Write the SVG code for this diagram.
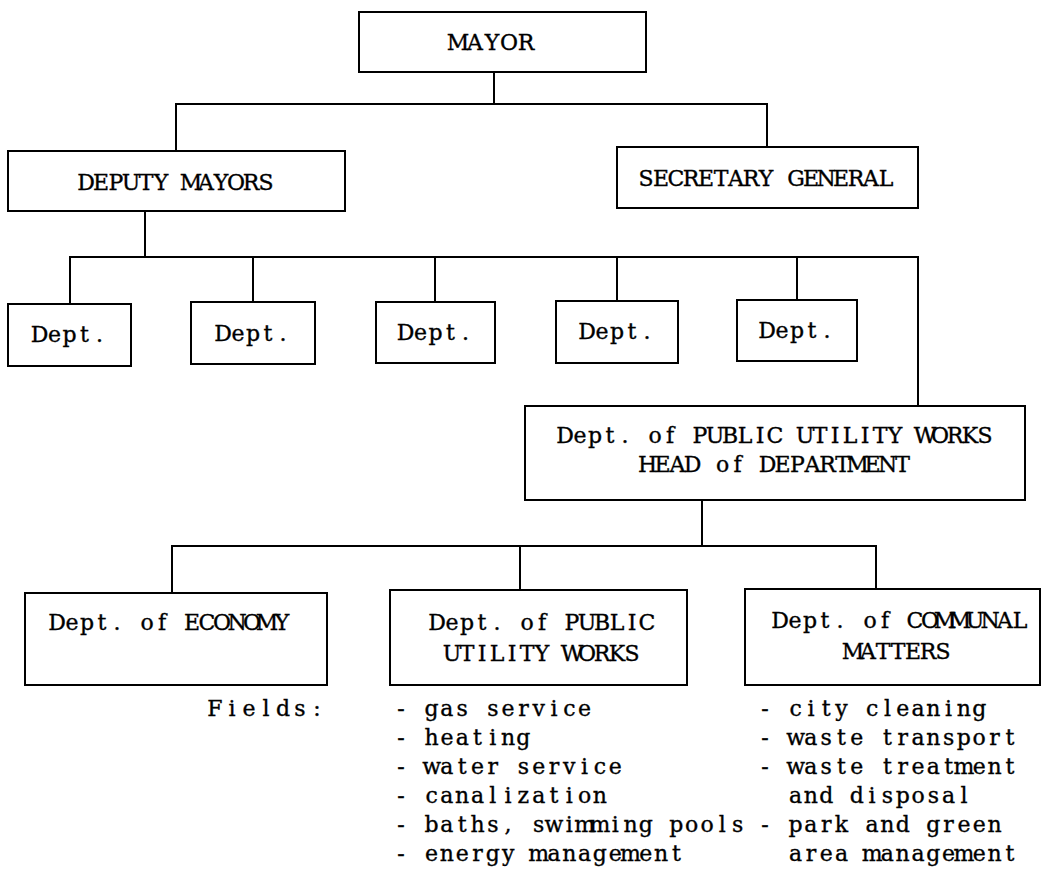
<svg xmlns="http://www.w3.org/2000/svg" width="1041" height="880" viewBox="0 0 1041 880">
<style>
.box{fill:#fff;stroke:#000;stroke-width:2}
.ln{fill:none;stroke:#000;stroke-width:2}
text{font-family:"DejaVu Serif","Liberation Serif",serif;font-size:22px;fill:#000;stroke:#000;stroke-width:0.35;text-anchor:middle}
</style>
<rect width="1041" height="880" fill="#fff"/>
<g id="connectors">
<path class="ln" d="M494,72V104M176,151V104H767V147"/>
<path class="ln" d="M145,211V257M70,304V257H918V406M253,257V302M435,257V302M617,257V301M797,257V300"/>
<path class="ln" d="M702,500V546M172,593V546H876V589M520,546V590"/>
</g>
<g id="mayor"><rect class="box" x="359" y="12" width="287" height="60"/>
<text y="50" x="458 475 492 509 526">MAYOR</text></g>
<g id="deputy"><rect class="box" x="8" y="151" width="337" height="60"/>
<text y="190" x="86 101 116 131 146 161 176 191 206 221 236 251 266">DEPUTY MAYORS</text></g>
<g id="secretary"><rect class="box" x="617" y="147" width="301" height="61"/>
<text y="186" x="646 661 676 691 706 721 736 751 766 781 796 811 826 841 856 871 886">SECRETARY GENERAL</text></g>
<g id="dept1"><rect class="box" x="8" y="304" width="123" height="62"/>
<text y="342" x="39.5 54.5 69.5 84.5 99.5">Dept.</text></g>
<g id="dept2"><rect class="box" x="191" y="302" width="124" height="62"/>
<text y="341" x="223 238 253 268 283">Dept.</text></g>
<g id="dept3"><rect class="box" x="376" y="302" width="119" height="61"/>
<text y="340" x="405.5 420.5 435.5 450.5 465.5">Dept.</text></g>
<g id="dept4"><rect class="box" x="556" y="301" width="122" height="62"/>
<text y="339" x="587 602 617 632 647">Dept.</text></g>
<g id="dept5"><rect class="box" x="737" y="300" width="120" height="61"/>
<text y="338" x="767 782 797 812 827">Dept.</text></g>
<g id="head"><rect class="box" x="525" y="406" width="500" height="94"/>
<text y="443" x="565 580 595 610 625 640 655 670 685 700 715 730 745 760 775 790 805 820 835 850 865 880 895 910 925 940 955 970 985">Dept. of PUBLIC UTILITY WORKS</text>
<text y="472" x="647.5 662.5 677.5 692.5 707.5 722.5 737.5 752.5 767.5 782.5 797.5 812.5 827.5 842.5 857.5 872.5 887.5 902.5">HEAD of DEPARTMENT</text></g>
<g id="economy"><rect class="box" x="25" y="593" width="302" height="92"/>
<text y="630" x="57 72 87 102 117 132 147 162 177 192 207 222 237 252 267 282">Dept. of ECONOMY</text></g>
<g id="puw"><rect class="box" x="390" y="590" width="297" height="95"/>
<text y="630" x="437 452 467 482 497 512 527 542 557 572 587 602 617 632 647">Dept. of PUBLIC</text>
<text y="661" x="452 467 482 497 512 527 542 557 572 587 602 617 632">UTILITY WORKS</text></g>
<g id="communal"><rect class="box" x="745" y="589" width="295" height="96"/>
<text y="628" x="780 795 810 825 840 855 870 885 900 915 930 945 960 975 990 1005 1020">Dept. of COMMUNAL</text>
<text y="659" x="853 868 883 898 913 928 943">MATTERS</text></g>
<g id="fields">
<text y="716" x="215 232 249 266 283 300 317">Fields:</text>
<text y="716" x="401 416.3 431.6 446.9 462.2 477.5 492.8 508.1 523.4 538.7 554 569.3 584.6">- gas service</text>
<text y="745" x="401 416.3 431.6 446.9 462.2 477.5 492.8 508.1 523.4">- heating</text>
<text y="774" x="401 416.3 431.6 446.9 462.2 477.5 492.8 508.1 523.4 538.7 554 569.3 584.6 599.9 615.2">- water service</text>
<text y="803" x="401 416.3 431.6 446.9 462.2 477.5 492.8 508.1 523.4 538.7 554 569.3 584.6 599.9">- canalization</text>
<text y="832" x="401 416.3 431.6 446.9 462.2 477.5 492.8 508.1 523.4 538.7 554 569.3 584.6 599.9 615.2 630.5 645.8 661.1 676.4 691.7 707 722.3 737.6">- baths, swimming pools</text>
<text y="861" x="401 416.3 431.6 446.9 462.2 477.5 492.8 508.1 523.4 538.7 554 569.3 584.6 599.9 615.2 630.5 645.8 661.1 676.4">- energy management</text>
<text y="716" x="765 780.3 795.6 810.9 826.2 841.5 856.8 872.1 887.4 902.7 918 933.3 948.6 963.9 979.2">- city cleaning</text>
<text y="745" x="765 780.3 795.6 810.9 826.2 841.5 856.8 872.1 887.4 902.7 918 933.3 948.6 963.9 979.2 994.5 1009.8">- waste transport</text>
<text y="774" x="765 780.3 795.6 810.9 826.2 841.5 856.8 872.1 887.4 902.7 918 933.3 948.6 963.9 979.2 994.5 1009.8">- waste treatment</text>
<text y="803" x="795.6 810.9 826.2 841.5 856.8 872.1 887.4 902.7 918 933.3 948.6 963.9">and disposal</text>
<text y="832" x="765 780.3 795.6 810.9 826.2 841.5 856.8 872.1 887.4 902.7 918 933.3 948.6 963.9 979.2 994.5">- park and green</text>
<text y="861" x="795.6 810.9 826.2 841.5 856.8 872.1 887.4 902.7 918 933.3 948.6 963.9 979.2 994.5 1009.8">area management</text>
</g>
</svg>
